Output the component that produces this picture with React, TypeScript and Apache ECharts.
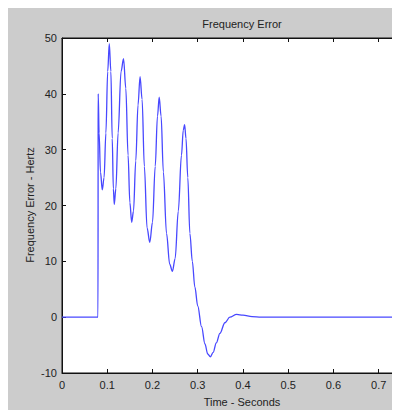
import React, { useEffect, useRef } from "react";
import * as echarts from "echarts";

const chartTitle = "Frequency Error";
const xLabel = "Time - Seconds";
const yLabel = "Frequency Error - Hertz";

const times = [
  0, 0.0795, 0.08, 0.082, 0.085, 0.089, 0.093, 0.097, 0.101, 0.1045, 0.108, 0.111,
  0.1135, 0.1155, 0.119, 0.124, 0.1305, 0.136, 0.141, 0.146, 0.15, 0.154, 0.158,
  0.163, 0.168, 0.1725, 0.177, 0.182, 0.188, 0.194, 0.2, 0.206, 0.211, 0.2148, 0.219,
  0.224, 0.231, 0.238, 0.244, 0.25, 0.257, 0.264, 0.268, 0.271, 0.274, 0.278, 0.2826,
  0.288, 0.2936, 0.3, 0.3084, 0.316, 0.322, 0.328, 0.334, 0.341, 0.349, 0.36, 0.371,
  0.386, 0.4, 0.42, 0.44, 0.5, 0.6, 0.7, 0.8,
];
const freqError = [
  0, 0, 40, 33, 26, 22.8, 25, 33, 44, 49, 44, 32,
  23, 20.2, 23, 33, 44, 46.3, 41, 29, 20.5, 17, 19,
  28, 38, 43.1, 39, 27, 16, 13.4, 17, 27, 36, 39.4, 36,
  26, 15, 9.5, 8.2, 10.5, 19, 29, 33.5, 34.5, 32, 25, 15,
  10, 5.4, 2, -1.7, -4.8, -6.6, -7.1, -6.3, -4.6, -2.9, -1.0, 0,
  0.5, 0.35, 0.1, 0, 0, 0, 0, 0,
];
const xTicks = { min: 0, max: 0.8, interval: 0.1 };
const yTicks = { min: -10, max: 50, interval: 10 };

export default function App() {
  const ref = useRef<HTMLDivElement>(null);
  useEffect(() => {
    if (!ref.current) return;
    const chart = echarts.init(ref.current, null, { renderer: "svg" });
    const font = "Liberation Sans, Arial, sans-serif";
    const axisCommon = {
      axisLine: { show: true, onZero: false, lineStyle: { color: "#111", width: 1 } },
      axisTick: { show: true, inside: true, length: 4, lineStyle: { color: "#111" } },
      splitLine: { show: false },
    };
    chart.setOption({
      animation: false,
      backgroundColor: "#cccccc",
      grid: {
        left: 55,
        top: 30,
        right: 1,
        bottom: 37,
        show: true,
        backgroundColor: "#ffffff",
        borderColor: "#111",
        borderWidth: 1,
      },
      xAxis: [
        {
          type: "value",
          ...xTicks,
          position: "bottom",
          ...axisCommon,
          axisLabel: {
            color: "#222",
            fontSize: 11,
            fontFamily: font,
            margin: 6,
            showMaxLabel: false,
          },
        },
        {
          type: "value",
          ...xTicks,
          position: "top",
          ...axisCommon,
          axisLabel: { show: false },
        },
      ],
      yAxis: [
        {
          type: "value",
          ...yTicks,
          position: "left",
          ...axisCommon,
          axisLabel: { color: "#222", fontSize: 11, fontFamily: font, margin: 5 },
        },
        {
          type: "value",
          ...yTicks,
          position: "right",
          ...axisCommon,
          axisLabel: { show: false },
        },
      ],
      graphic: [
        {
          type: "text",
          x: 235,
          y: 16,
          style: {
            text: chartTitle,
            fill: "#222",
            font: `11px ${font}`,
            align: "center",
            verticalAlign: "middle",
          },
        },
        {
          type: "text",
          x: 235,
          y: 394,
          style: {
            text: xLabel,
            fill: "#222",
            font: `11px ${font}`,
            align: "center",
            verticalAlign: "middle",
          },
        },
        {
          type: "text",
          x: 23,
          y: 197,
          rotation: Math.PI / 2,
          style: {
            text: yLabel,
            fill: "#222",
            font: `11px ${font}`,
            align: "center",
            verticalAlign: "middle",
          },
        },
      ],
      series: [
        {
          type: "line",
          data: times.map((t, i) => [t, freqError[i]]),
          showSymbol: false,
          smooth: 0.35,
          smoothMonotone: "x",
          lineStyle: { color: "#4848ff", width: 1.3 },
          clip: true,
        },
      ],
    });
    return () => chart.dispose();
  }, []);
  return (
    <div style={{ width: 393, height: 402, marginLeft: -1, overflow: "hidden" }}>
      <div ref={ref} style={{ width: 418, height: 402 }} />
    </div>
  );
}
